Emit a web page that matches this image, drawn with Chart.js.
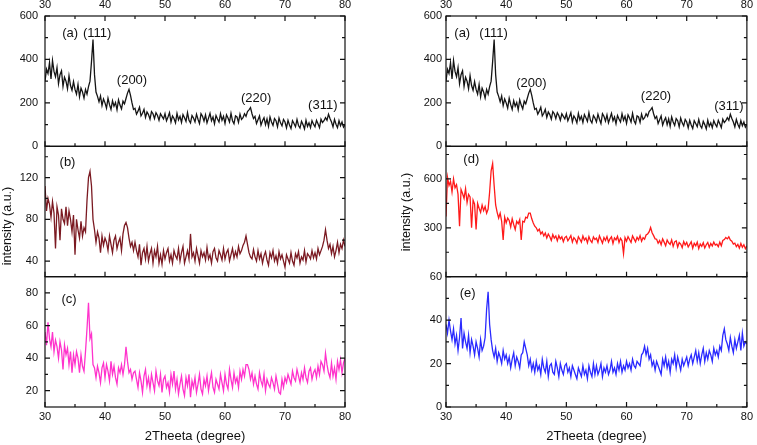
<!DOCTYPE html>
<html>
<head>
<meta charset="utf-8">
<script src="https://cdn.jsdelivr.net/npm/chart.js@4.4.0/dist/chart.umd.min.js"></script>
<style>
  html, body { margin: 0; padding: 0; background: #fff; }
  #wrap { position: relative; width: 757px; height: 445px; }
  .col { position: absolute; top: 0; }
</style>
</head>
<body>
<div id="wrap">
  <div class="col" style="left:0"><canvas id="leftChart" width="378" height="445"></canvas></div>
  <div class="col" style="left:378px"><canvas id="rightChart" width="379" height="445"></canvas></div>
</div>
<script>
// scan grid, 2theta in degrees (0.25 deg step)
const twoTheta = [];
for (let i = 0; i <= 200; i++) twoTheta.push(30 + i * 0.25);

const xMajor = [30, 40, 50, 60, 70, 80];
const xMinor = [35, 45, 55, 65, 75];

// (a) - shown in both columns
const seriesA = [
  300, 355, 335, 385, 310, 395, 345, 320, 362, 288, 330, 348, 276, 318, 300, 265, 325, 280, 258, 298,
  262, 240, 285, 228, 268, 250, 222, 262, 240, 275, 300, 390, 492, 330, 250, 230, 205, 232, 188, 218,
  200, 176, 222, 192, 170, 210, 185, 202, 168, 214, 190, 172, 208, 196, 220, 245, 262, 235, 200, 170,
  175, 148, 162, 180, 140, 152, 170, 133, 158, 146, 125, 160, 150, 128, 155, 142, 120, 150, 138, 126,
  150, 118, 135, 155, 112, 140, 128, 108, 152, 122, 138, 110, 146, 132, 115, 155, 120, 108, 142, 130,
  112, 148, 125, 105, 150, 138, 116, 145, 108, 130, 152, 118, 135, 104, 142, 126, 112, 150, 120, 138,
  106, 145, 130, 112, 152, 118, 104, 140, 135, 110, 148, 124, 132, 150, 138, 160, 168, 178, 150, 128,
  138, 105, 122, 140, 98, 118, 132, 100, 126, 92, 135, 112, 96, 128, 118, 90, 130, 108, 94, 124,
  112, 85, 120, 98, 82, 118, 105, 90, 124, 96, 84, 115, 100, 80, 120, 92, 108, 86, 118, 102,
  90, 120, 104, 86, 125, 110, 118, 132, 120, 148, 128, 112, 90, 124, 102, 86, 118, 95, 112, 88,
  100
];
const seriesB = [
  112, 88, 100, 94, 82, 97, 86, 52, 92, 84, 60, 90, 80, 76, 92, 74, 88, 80, 68, 84,
  46, 80, 70, 62, 78, 64, 72, 68, 98, 120, 126, 112, 80, 70, 58, 68, 62, 48, 64, 55,
  62, 58, 50, 64, 56, 48, 60, 64, 52, 58, 62, 50, 66, 74, 77, 72, 62, 54, 58, 50,
  58, 50, 44, 56, 36, 48, 52, 42, 54, 40, 47, 52, 38, 50, 44, 54, 38, 46, 37, 50,
  42, 48, 52, 40, 46, 38, 50, 45, 42, 52, 40, 48, 54, 38, 44, 50, 42, 66, 44, 48,
  40, 52, 45, 38, 50, 44, 48, 41, 53, 42, 46, 38, 49, 52, 43, 40, 50, 46, 41, 52,
  42, 48, 51, 40, 46, 52, 43, 49, 44, 54, 47, 50, 55, 58, 64, 56, 48, 44, 42, 51,
  44, 40, 50, 42, 47, 38, 45, 49, 41, 36, 48, 43, 50, 40, 45, 38, 49, 42, 46, 40,
  34, 46, 42, 38, 48, 40, 36, 47, 43, 49, 38, 44, 41, 50, 39, 47, 45, 42, 50, 43,
  48, 42, 52, 46, 50, 54, 60, 70, 60, 52, 56, 47, 54, 44, 50, 58, 48, 56, 52, 60,
  54
];
const seriesC = [
  56, 48, 62, 52, 47, 56, 44, 51, 47, 40, 50, 45, 33, 48, 42, 46, 36, 44, 31, 42,
  36, 44, 40, 31, 42, 35, 32, 44, 58, 74, 52, 55, 36, 34, 28, 35, 31, 25, 34, 37,
  28, 36, 32, 26, 38, 30, 35, 28, 24, 34, 31, 36, 30, 36, 47, 38, 31, 33, 27, 31,
  32, 27, 22, 31, 26, 19, 29, 33, 23, 28, 21, 30, 25, 20, 32, 26, 23, 30, 19, 27,
  29, 22, 25, 19, 30, 24, 32, 21, 27, 18, 24, 29, 21, 17, 28, 23, 30, 16, 26, 22,
  28, 19, 24, 30, 21, 18, 27, 23, 29, 20, 26, 31, 22, 19, 27, 24, 21, 30, 25, 20,
  30, 24, 21, 33, 27, 22, 31, 25, 28, 22, 32, 27, 33, 29, 36, 36, 33, 27, 31, 24,
  29, 24, 21, 31, 26, 23, 30, 20, 27, 24, 22, 28, 25, 21, 29, 24, 19, 18, 27, 22,
  28, 25, 30, 27, 24, 32, 28, 26, 33, 29, 25, 31, 27, 34, 28, 25, 32, 34, 27, 31,
  33, 28, 35, 30, 38, 36, 32, 43, 36, 31, 28, 37, 29, 34, 27, 38, 33, 39, 31, 37,
  40
];
const seriesD = [
  370, 610, 560, 585, 520, 600, 545, 565, 505, 310, 535, 510, 480, 540, 455, 505, 490, 300, 470, 445,
  290, 450, 420, 395, 440, 405, 430, 390, 415, 520, 650, 695, 560, 440, 395, 360, 390, 340, 225, 365,
  330, 360, 345, 305, 355, 320, 290, 340, 325, 350, 225, 340, 335, 365, 360, 390, 390, 355, 330, 310,
  300, 280, 292, 262, 275, 250, 268, 238, 262, 245, 222, 258, 236, 250, 220, 252, 232, 245, 215, 240,
  248, 220, 235, 252, 212, 240, 228, 206, 245, 230, 212, 250, 225, 238, 208, 246, 222, 210, 244, 228,
  236, 210, 250, 228, 205, 240, 222, 246, 212, 232, 245, 204, 238, 226, 248, 210, 236, 220, 142, 240,
  218, 246, 228, 210, 250, 232, 214, 242, 226, 252, 218, 240, 230, 256, 262, 275, 302, 270, 252, 232,
  230, 205, 222, 196, 232, 212, 190, 225, 208, 198, 226, 186, 214, 220, 182, 210, 200, 178, 216, 194,
  210, 182, 198, 214, 175, 205, 190, 212, 172, 200, 186, 208, 176, 196, 210, 180, 204, 188, 212, 194,
  200, 184, 212, 190, 222, 228, 240, 232, 245, 225, 218, 200, 206, 184, 198, 175, 204, 180, 196, 172,
  190
];
const seriesE = [
  38, 34, 40, 35, 31, 36, 29, 33, 26, 32, 41, 27, 34, 30, 27, 33, 25, 31, 28, 24,
  30, 27, 23, 31, 26, 28, 32, 45, 53, 38, 31, 26, 23, 27, 21, 25, 23, 20, 26, 22,
  24, 20, 23, 18, 22, 25, 19, 23, 21, 18, 24, 25, 30, 27, 24, 19, 22, 17, 20, 16,
  21, 17, 19, 15, 22, 18, 16, 21, 14, 19, 20, 16, 15, 21, 18, 14, 20, 17, 15, 19,
  20, 16, 18, 14, 19, 17, 15, 13, 18, 16, 14, 19, 15, 17, 13, 19, 16, 14, 20, 15,
  19, 15, 17, 20, 14, 18, 16, 19, 15, 17, 21, 16, 18, 15, 20, 17, 21, 16, 19, 17,
  21, 18, 20, 17, 22, 19, 18, 21, 20, 19, 24, 25, 28, 24, 27, 22, 24, 19, 21, 17,
  21, 19, 17, 15, 22, 19, 23, 18, 21, 16, 22, 20, 24, 18, 23, 20, 17, 22, 19, 21,
  23, 19, 22, 24, 20, 23, 26, 21, 25, 20, 24, 27, 21, 25, 22, 26, 24, 21, 27, 24,
  26, 23, 28, 26, 33, 36, 31, 29, 26, 32, 28, 25, 31, 27, 30, 33, 26, 34, 28, 30,
  29
];

// y ticks per panel
const ticksA = [0, 200, 400, 600], minorA = [100, 300, 500];
const ticksB = [40, 80, 120], minorB = [60, 100, 140];
const ticksC = [20, 40, 60, 80], minorC = [30, 50, 70];
const ticksD = [300, 600], minorD = [150, 450, 750];
const ticksE = [0, 20, 40, 60], minorE = [10, 30, 50];

// peak / panel labels (in data units)
const notesLeftA = [
  { text: '(a)', x: 34.2, y: 522 }, { text: '(111)', x: 38.7, y: 522 },
  { text: '(200)', x: 44.5, y: 303 }, { text: '(220)', x: 65.2, y: 221 },
  { text: '(311)', x: 76.3, y: 189 }
];
const notesRightA = [
  { text: '(a)', x: 32.7, y: 522 }, { text: '(111)', x: 37.9, y: 522 },
  { text: '(200)', x: 44.2, y: 290 }, { text: '(220)', x: 64.9, y: 231 },
  { text: '(311)', x: 77.0, y: 184 }
];
const notesB = [{ text: '(b)', x: 33.75, y: 135 }];
const notesC = [{ text: '(c)', x: 34.0, y: 76 }];
const notesD = [{ text: '(d)', x: 34.2, y: 717 }];
const notesE = [{ text: '(e)', x: 33.6, y: 52.4 }];

const FONT = "'Liberation Sans', Arial, sans-serif";

const framePlugin = {
  id: 'frames',
  afterDatasetsDraw(chart, args, opts) {
    const ctx = chart.ctx;
    const area = chart.chartArea;
    const x = chart.scales.x;
    ctx.save();
    ctx.strokeStyle = '#111';
    ctx.lineWidth = 1.2;
    opts.panels.forEach((p, i) => {
      const y = chart.scales[p.id];
      ctx.strokeRect(area.left, y.top, area.right - area.left, y.bottom - y.top);
      ctx.beginPath();
      const tickY = (v, len) => {
        const py = y.getPixelForValue(v);
        ctx.moveTo(area.left, py); ctx.lineTo(area.left + len, py);
        ctx.moveTo(area.right, py); ctx.lineTo(area.right - len, py);
      };
      const tickX = (v, len) => {
        const px = x.getPixelForValue(v);
        ctx.moveTo(px, y.bottom); ctx.lineTo(px, y.bottom - len);
        if (i === 0) { ctx.moveTo(px, y.top); ctx.lineTo(px, y.top + len); }
      };
      p.major.forEach(v => tickY(v, 5));
      p.minor.forEach(v => tickY(v, 3));
      xMajor.forEach(v => tickX(v, 5));
      xMinor.forEach(v => tickX(v, 3));
      ctx.stroke();

      ctx.fillStyle = '#111';
      ctx.font = '13px ' + FONT;
      ctx.textAlign = 'center';
      ctx.textBaseline = 'middle';
      p.notes.forEach(n => {
        ctx.fillText(n.text, x.getPixelForValue(n.x), y.getPixelForValue(n.y));
      });
    });
    // y axis title
    ctx.translate(opts.titleX, opts.titleY);
    ctx.rotate(-Math.PI / 2);
    ctx.font = '12.5px ' + FONT;
    ctx.fillText('intensity (a.u.)', 0, 0);
    ctx.restore();
  }
};

function makeColumn(canvasId, panels, cfg) {
  const tickFont = { family: FONT, size: 11 };
  const xAxis = (pos) => ({
    type: 'linear',
    position: pos,
    min: 30,
    max: 80,
    afterBuildTicks: s => { s.ticks = xMajor.map(v => ({ value: v })); },
    ticks: { font: tickFont, color: '#111', padding: pos === 'top' ? 4 : 3, maxRotation: 0, autoSkip: false },
    grid: { display: false, drawTicks: false },
    border: { display: false },
    title: {
      display: pos === 'bottom',
      text: '2Theeta (degree)',
      color: '#111',
      font: { family: FONT, size: 13 },
      padding: { top: 0, bottom: 1 }
    },
    afterFit: s => { s.height = pos === 'top' ? 16 : 38; }
  });

  const scales = { x: xAxis('bottom'), xTop: xAxis('top') };
  panels.forEach((p, i) => {
    scales[p.id] = {
      type: 'linear',
      position: 'left',
      stack: 'col',
      stackWeight: 1,
      weight: -i,
      min: p.min,
      max: p.max,
      afterBuildTicks: s => { s.ticks = p.major.map(v => ({ value: v })); },
      ticks: { font: tickFont, color: '#111', padding: cfg.yPad, autoSkip: false },
      grid: { display: false, drawTicks: false },
      border: { display: false },
      afterFit: s => { s.width = cfg.yWidth; }
    };
  });

  const datasets = panels.map(p => ({
    data: twoTheta.map((t, k) => ({ x: t, y: p.data[k] })),
    xAxisID: 'x',
    yAxisID: p.id,
    borderColor: p.color,
    borderWidth: 1.3,
    pointRadius: 0,
    tension: 0
  }));

  return new Chart(document.getElementById(canvasId), {
    type: 'line',
    data: { datasets },
    options: {
      responsive: false,
      animation: false,
      layout: { padding: { top: 0, bottom: 0, left: 0, right: cfg.padRight } },
      scales,
      plugins: {
        legend: { display: false },
        tooltip: { enabled: false },
        frames: { panels, titleX: cfg.titleX, titleY: cfg.titleY }
      }
    },
    plugins: [framePlugin]
  });
}

window.onload = () => {
  makeColumn('leftChart', [
    { id: 'yA', data: seriesA, color: '#151515', min: 0, max: 600, major: ticksA, minor: minorA, notes: notesLeftA },
    { id: 'yB', data: seriesB, color: '#7b1a22', min: 25, max: 150, major: ticksB, minor: minorB, notes: notesB },
    { id: 'yC', data: seriesC, color: '#ff33cc', min: 10, max: 90, major: ticksC, minor: minorC, notes: notesC }
  ], { yWidth: 45, yPad: 7, padRight: 33, titleX: 8, titleY: 226 });

  makeColumn('rightChart', [
    { id: 'yA', data: seriesA, color: '#151515', min: 0, max: 600, major: ticksA, minor: minorA, notes: notesRightA },
    { id: 'yD', data: seriesD, color: '#ff1a1a', min: 0, max: 800, major: ticksD, minor: minorD, notes: notesD },
    { id: 'yE', data: seriesE, color: '#2a2aff', min: 0, max: 60, major: ticksE, minor: minorE, notes: notesE }
  ], { yWidth: 68, yPad: 4, padRight: 7, titleX: 29, titleY: 212 });
};
</script>
</body>
</html>
